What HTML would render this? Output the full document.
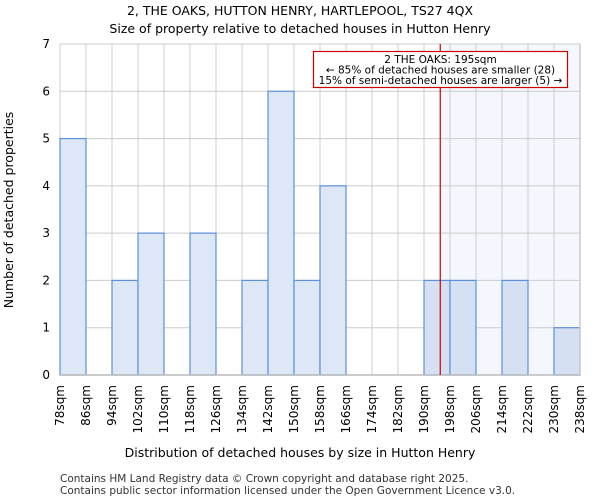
<!DOCTYPE html>
<html><head><meta charset="utf-8">
<style>
body{margin:0;background:#fff;font-family:"DejaVu Sans","Liberation Sans",sans-serif;}
svg text{font-family:"DejaVu Sans","Liberation Sans",sans-serif;}
</style></head>
<body>
<svg id="chart" width="600" height="500" xmlns="http://www.w3.org/2000/svg">
<text x="300" y="15" text-anchor="middle" font-size="12.5">2, THE OAKS, HUTTON HENRY, HARTLEPOOL, TS27 4QX</text>
<text x="300" y="33" text-anchor="middle" font-size="12.5">Size of property relative to detached houses in Hutton Henry</text>
<g id="plot"></g>
<text x="300" y="457" text-anchor="middle" font-size="12.5">Distribution of detached houses by size in Hutton Henry</text>
<text transform="translate(13,210) rotate(-90)" text-anchor="middle" font-size="12.5">Number of detached properties</text>
<text x="60" y="482" font-size="10.5" fill="#333">Contains HM Land Registry data © Crown copyright and database right 2025.</text>
<text x="60" y="494" font-size="10.5" fill="#333">Contains public sector information licensed under the Open Government Licence v3.0.</text>
</svg>
<script>
const binStarts = [78,86,94,102,110,118,126,134,142,150,158,166,174,182,190,198,206,214,222,230];
const counts = [5,0,2,3,0,3,0,2,6,2,4,0,0,0,2,2,0,2,0,1];
const yTicks = [0,1,2,3,4,5,6,7];
const propertySize = 195;
const binWidth = 8;
const NS = "http://www.w3.org/2000/svg";
const L=60, R=580, T=44, B=375, xMin=78, xMax=238, yMax=7;
const xs = v => L + (v - xMin) * (R - L) / (xMax - xMin);
const ys = v => B - v * (B - T) / yMax;
const g = document.getElementById('plot');
function mk(tag, attrs){const e=document.createElementNS(NS,tag);for(const k in attrs)e.setAttribute(k,attrs[k]);g.appendChild(e);return e;}
let sh = mk('rect',{x:xs(propertySize),y:T,width:R-xs(propertySize),height:B-T,fill:'#f4f7fd'});


yTicks.forEach(t=>{
  let l=mk('line',{x1:L,x2:R,y1:ys(t),y2:ys(t),stroke:'#cccccc','stroke-width':1});
  
  
  let tx=mk('text',{x:L-10,y:ys(t)+4,'text-anchor':'end','font-size':12});
  tx.textContent=t;
  
  
});
const edges = binStarts.concat([binStarts[binStarts.length-1]+binWidth]);
edges.forEach(e=>{
  let l=mk('line',{x1:xs(e),x2:xs(e),y1:T,y2:B,stroke:'#cccccc','stroke-width':1});
  
  
  const x=xs(e);
  let tx=mk('text',{transform:`translate(${x+4},385) rotate(-90)`,'text-anchor':'end','font-size':12});
  tx.textContent=e+'sqm';
  
  
});
binStarts.forEach((s,i)=>{
  if(counts[i]<=0) return;
  const inShade = s+binWidth > propertySize;
  let r=mk('rect',{x:xs(s),y:ys(counts[i]),width:xs(s+binWidth)-xs(s),height:B-ys(counts[i]),fill:inShade?'#d5e1f3':'#dde7f5',stroke:'#5b91db','stroke-width':1.2});
  
  
});
let ax=mk('line',{x1:L,x2:R,y1:B,y2:B,stroke:'#bbbbbb','stroke-width':1.5});


let rb=mk('line',{x1:R,x2:R,y1:T,y2:B,stroke:'#cccccc','stroke-width':1.5});


let pl=mk('line',{x1:xs(propertySize),x2:xs(propertySize),y1:T,y2:B,stroke:'#cc0000','stroke-width':1.2});


let ab=mk('rect',{x:313.5,y:51.5,width:254,height:36,fill:'#fff',stroke:'#cc0000','stroke-width':1.2});


['2 THE OAKS: 195sqm','← 85% of detached houses are smaller (28)','15% of semi-detached houses are larger (5) →'].forEach((t,i)=>{
  let tx=mk('text',{x:440.5,y:63+i*10.5,'text-anchor':'middle','font-size':10.5});
  tx.textContent=t;
  
  
});
</script>
</body></html>
